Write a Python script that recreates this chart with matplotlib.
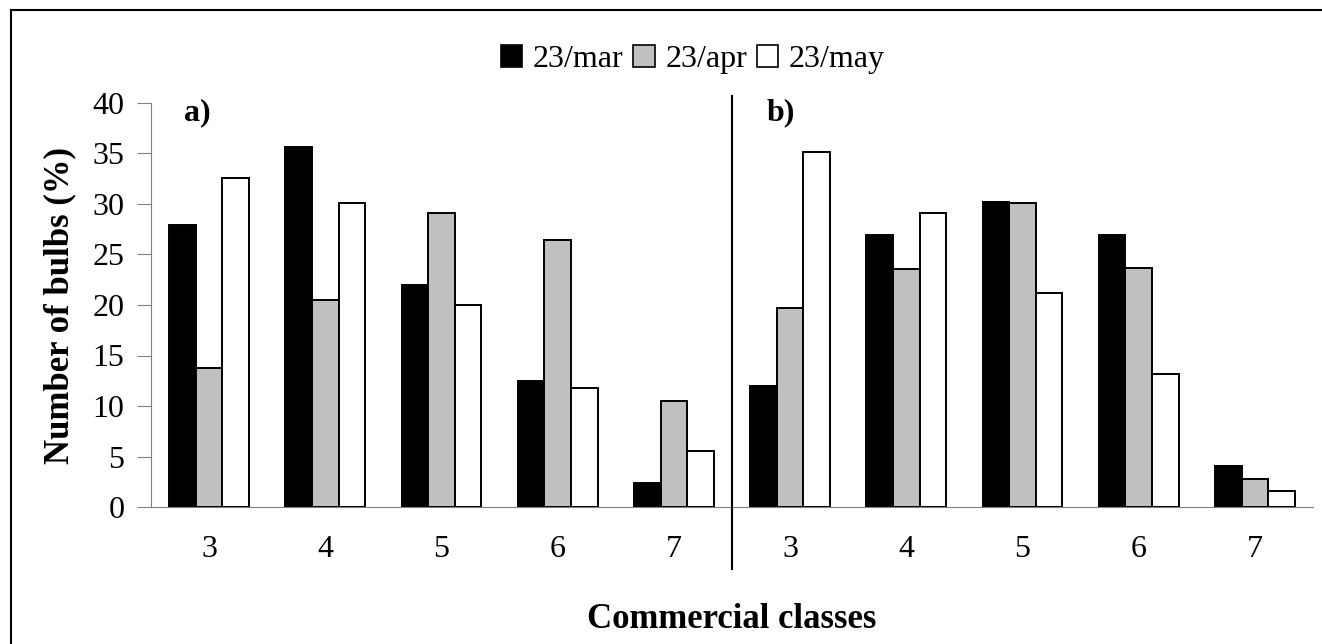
import matplotlib
matplotlib.use("Agg")
import matplotlib.pyplot as plt
from matplotlib.patches import Patch
from matplotlib.lines import Line2D
import numpy as np

plt.rcParams['font.family'] = ['Liberation Serif', 'DejaVu Serif']

classes = ['3', '4', '5', '6', '7']
series_names = ['23/mar', '23/apr', '23/may']
colors = ['#000000', '#C0C0C0', '#FFFFFF']

# panel a)
a_mar = [27.9, 35.6, 22.0, 12.5, 2.4]
a_apr = [13.8, 20.5, 29.1, 26.4, 10.5]
a_may = [32.6, 30.1, 20.0, 11.8, 5.5]
# panel b)
b_mar = [12.0, 26.9, 30.2, 26.9, 4.1]
b_apr = [19.7, 23.6, 30.1, 23.7, 2.8]
b_may = [35.1, 29.1, 21.2, 13.2, 1.6]

yticks = [0, 5, 10, 15, 20, 25, 30, 35, 40]

W, H = 1322, 644
fig = plt.figure(figsize=(W / 100, H / 100), dpi=100)
ax = fig.add_axes([151 / W, 1 - 507 / H, (1313 - 151) / W, (507 - 103) / H])

n = len(classes)
x = np.arange(2 * n)
labels = classes + classes
series = [a_mar + b_mar, a_apr + b_apr, a_may + b_may]
bw = 0.229
for i, (vals, c) in enumerate(zip(series, colors)):
    ax.bar(x + (i - 1) * bw, vals, width=bw, color=c, edgecolor='black',
           linewidth=1.4, zorder=3)

ax.set_xlim(-0.5, 2 * n - 0.5)
ax.set_ylim(0, 40)
ax.set_yticks(yticks)
ax.set_xticks(x)
ax.set_xticklabels(labels)

for s in ['top', 'right']:
    ax.spines[s].set_visible(False)
for s in ['left', 'bottom']:
    ax.spines[s].set_color('#808080')
    ax.spines[s].set_linewidth(0.8)

ax.tick_params(axis='y', direction='out', length=10, width=0.8, color='#808080',
               pad=9, labelsize=23)
ax.tick_params(axis='x', length=0, pad=20, labelsize=23)

# separator between panels
ax.plot([n - 0.5, n - 0.5], [40.7, -6.1], color='black', lw=1.5, clip_on=False, zorder=4)

ax.text(-0.22, 39.0, 'a)', fontsize=23, fontweight='bold', ha='left', va='center')
ax.text(n - 0.5 + 0.3, 39.0, 'b)', fontsize=23, fontweight='bold', ha='left', va='center')

ax.set_ylabel('Number of bulbs (%)', fontsize=25, fontweight='bold', labelpad=12)
ax.set_xlabel('Commercial classes', fontsize=25, fontweight='bold', labelpad=28)

handles = [Patch(facecolor=c, edgecolor='black', linewidth=1.2) for c in colors]
fig.legend(handles, series_names, loc='center', bbox_to_anchor=(0.524, 0.908),
           ncol=3, frameon=False, fontsize=23, handlelength=0.68, handleheight=0.68,
           handletextpad=0.33, columnspacing=0.3, borderpad=0.1)

# figure border (left and top visible in reference)
fig.add_artist(Line2D([11 / W, 11 / W], [0, 1 - 10 / H], color='black', lw=1.5,
                      transform=fig.transFigure))
fig.add_artist(Line2D([11 / W, 1], [1 - 10 / H, 1 - 10 / H], color='black', lw=1.5,
                      transform=fig.transFigure))

fig.savefig('out.png', dpi=100)
